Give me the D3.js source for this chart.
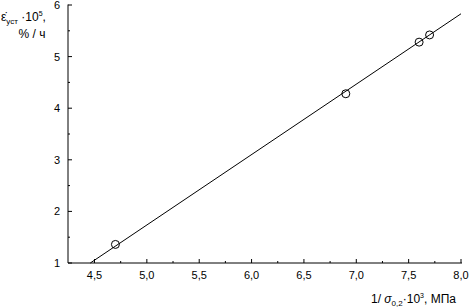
<!DOCTYPE html>
<html><head><meta charset="utf-8">
<script src="https://cdn.jsdelivr.net/npm/d3@7"></script>
<style>body{margin:0;background:#fff}svg{display:block}text{font-family:"Liberation Sans",Arial,sans-serif;fill:#000}</style>
</head><body>
<script>
const pointsX = [4.7, 6.9, 7.6, 7.7];
const pointsY = [1.36, 4.28, 5.28, 5.42];
const fitX = [4.46, 8.0];
const fitY = [1.0, 5.83];
const xTicks = [4.5, 5.0, 5.5, 6.0, 6.5, 7.0, 7.5, 8.0];
const xMinor = [4.75, 5.25, 5.75, 6.25, 6.75, 7.25, 7.75];
const yTicks = [1, 2, 3, 4, 5, 6];
const yMinor = [1.5, 2.5, 3.5, 4.5, 5.5];

const W = 471, H = 308;
const svg = d3.select("body").append("svg").attr("width", W).attr("height", H);
const x = d3.scaleLinear().domain([4.247, 8.0]).range([68, 461]);
const y = d3.scaleLinear().domain([1, 6]).range([263, 5]);
const fmt = d => d3.format(".1f")(d).replace(".", ",");

// x axis
const gx = svg.append("g").attr("transform", "translate(0,263)");
gx.append("line").attr("x1", 68).attr("x2", 462).attr("stroke", "#000");
gx.selectAll(".mj").data(xTicks).join("line")
  .attr("x1", d => x(d)).attr("x2", d => x(d)).attr("y1", 0).attr("y2", -4).attr("stroke", "#000");
gx.selectAll(".mn").data(xMinor).join("line").attr("class","mn")
  .attr("x1", d => x(d)).attr("x2", d => x(d)).attr("y1", 0).attr("y2", -2).attr("stroke", "#000");
gx.selectAll("text").data(xTicks).join("text")
  .attr("x", d => x(d)).attr("y", 16).attr("text-anchor", "middle").attr("font-size", 11).text(fmt);

// y axis
const gy = svg.append("g").attr("transform", "translate(68,0)");
gy.append("line").attr("y1", 4.5).attr("y2", 263).attr("stroke", "#000");
gy.selectAll(".mj").data(yTicks).join("line")
  .attr("y1", d => y(d)).attr("y2", d => y(d)).attr("x1", 0).attr("x2", 4).attr("stroke", "#000");
gy.selectAll(".mn").data(yMinor).join("line").attr("class","mn")
  .attr("y1", d => y(d)).attr("y2", d => y(d)).attr("x1", 0).attr("x2", 2).attr("stroke", "#000");
gy.selectAll("text").data(yTicks).join("text")
  .attr("x", -8).attr("y", d => y(d) + 4).attr("text-anchor", "end").attr("font-size", 11)
  .text(d => d);

// fit line
svg.append("path")
  .attr("d", d3.line().x(d => x(d[0])).y(d => y(d[1]))(fitX.map((v, i) => [v, fitY[i]])))
  .attr("stroke", "#000").attr("fill", "none");

// points
svg.selectAll("circle").data(pointsX).join("circle")
  .attr("cx", d => x(d)).attr("cy", (d, i) => y(pointsY[i])).attr("r", 4)
  .attr("fill", "none").attr("stroke", "#000");

// y title
const t1 = svg.append("text").attr("x", 1).attr("y", 21).attr("font-size", 12);
t1.append("tspan").text("ε̇");
t1.append("tspan").attr("font-size", 8).attr("dy", 3).text("уст");
t1.append("tspan").attr("dy", -3).text(" ·10");
t1.append("tspan").attr("font-size", 7).attr("dy", -5).text("5");
t1.append("tspan").attr("dy", 5).text(",");
svg.append("text").attr("x", 32).attr("y", 38).attr("text-anchor", "middle").attr("font-size", 12).text("% / ч");

// x title
const t2 = svg.append("text").attr("x", 371).attr("y", 303).attr("font-size", 12);
t2.append("tspan").text("1/ ");
t2.append("tspan").attr("font-style", "italic").text("σ");
t2.append("tspan").attr("font-size", 8).attr("dy", 3).text("0,2");
t2.append("tspan").attr("dy", -3).text("·10");
t2.append("tspan").attr("font-size", 7).attr("dy", -5).text("3");
t2.append("tspan").attr("dy", 5).text(", МПа");
</script>
</body></html>
